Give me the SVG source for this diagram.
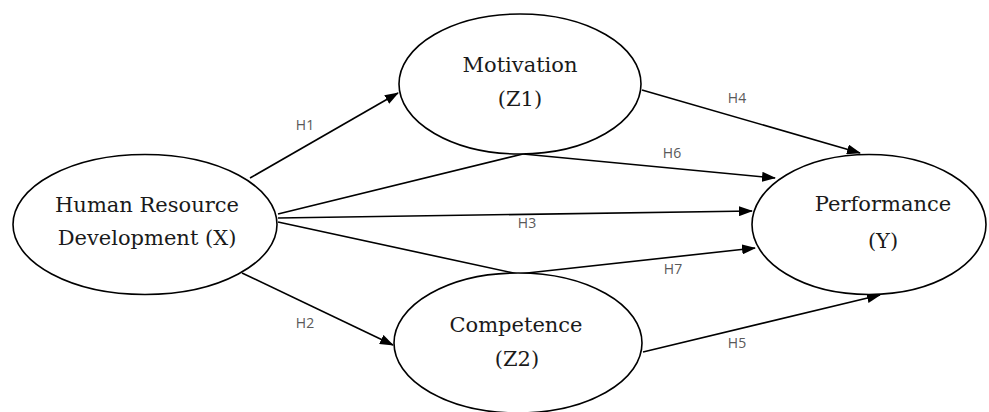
<svg xmlns="http://www.w3.org/2000/svg" width="989" height="412" viewBox="0 0 989 412">
<defs>
<style>
.node{fill:#fff;stroke:#000;stroke-width:1.6}
.nt{font-family:"DejaVu Serif","Liberation Serif",serif;font-size:21px;fill:#1a1a1a;text-anchor:middle}
.edge{stroke:#000;stroke-width:1.6;fill:none}
.lbl{font-family:"Open Sans","DejaVu Sans",sans-serif;font-size:14px;fill:#595959;text-anchor:middle}
</style>
<marker id="ah" viewBox="0 0 14 10" refX="13" refY="5" markerWidth="14" markerHeight="10" markerUnits="userSpaceOnUse" orient="auto">
<path d="M0,0 L14,5 L0,10 z" fill="#000"/>
</marker>
</defs>
<rect width="989" height="412" fill="#fff"/>
<g id="connectors">
<line class="edge" x1="250" y1="178" x2="398" y2="93" marker-end="url(#ah)"/>
<line class="edge" x1="242" y1="273" x2="393" y2="345" marker-end="url(#ah)"/>
<line class="edge" x1="642" y1="90" x2="860" y2="153" marker-end="url(#ah)"/>
<line class="edge" x1="278" y1="214" x2="523" y2="154"/>
<line class="edge" x1="523" y1="154" x2="775" y2="178" marker-end="url(#ah)"/>
<line class="edge" x1="278" y1="218" x2="752" y2="211" marker-end="url(#ah)"/>
<line class="edge" x1="278" y1="222" x2="518" y2="274"/>
<line class="edge" x1="518" y1="274" x2="755" y2="248" marker-end="url(#ah)"/>
<line class="edge" x1="643" y1="352" x2="880" y2="295" marker-end="url(#ah)"/>
<text class="lbl" x="305" y="130">H1</text>
<text class="lbl" x="305" y="328">H2</text>
<text class="lbl" x="527" y="228">H3</text>
<text class="lbl" x="737" y="103">H4</text>
<text class="lbl" x="737" y="348">H5</text>
<text class="lbl" x="672" y="158">H6</text>
<text class="lbl" x="673" y="274">H7</text>
</g>
<g id="hrd">
<ellipse class="node" cx="145" cy="224.5" rx="132" ry="70"/>
<text class="nt" x="147" y="212">Human Resource</text>
<text class="nt" x="147" y="245">Development (X)</text>
</g>
<g id="motivation">
<ellipse class="node" cx="520" cy="84" rx="121" ry="70"/>
<text class="nt" x="520" y="72">Motivation</text>
<text class="nt" x="520" y="106">(Z1)</text>
</g>
<g id="competence">
<ellipse class="node" cx="518" cy="343" rx="124" ry="70"/>
<text class="nt" x="516" y="332">Competence</text>
<text class="nt" x="517" y="366">(Z2)</text>
</g>
<g id="performance">
<ellipse class="node" cx="869" cy="224.5" rx="117" ry="70"/>
<text class="nt" x="883" y="211">Performance</text>
<text class="nt" x="883" y="248">(Y)</text>
</g>
</svg>
